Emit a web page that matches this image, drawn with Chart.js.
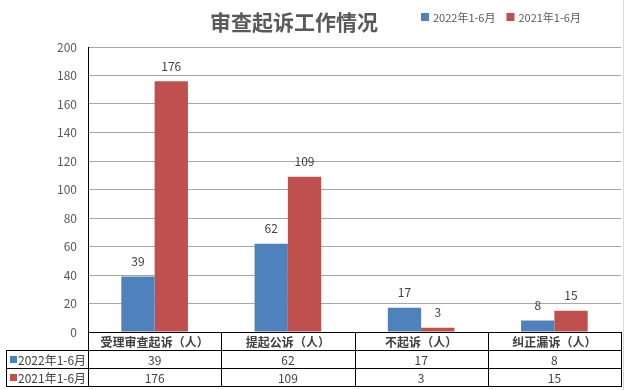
<!DOCTYPE html>
<html><head><meta charset="utf-8">
<script src="https://cdn.jsdelivr.net/npm/chart.js@4/dist/chart.umd.min.js"></script>
<style>html,body{margin:0;padding:0;background:#fff}</style>
</head><body>
<canvas id="c" width="626" height="390"></canvas>
<script>
const title = '审查起诉工作情况';
const categories = ['受理审查起诉（人）', '提起公诉（人）', '不起诉（人）', '纠正漏诉（人）'];
const seriesNames = ['2022年1-6月', '2021年1-6月'];
const values2022 = [39, 62, 17, 8];
const values2021 = [176, 109, 3, 15];
const yMin = 0, yMax = 200, yMajorStep = 20, yMinorStep = 5;
const seriesColors = ['#4F81BD', '#C0504D'];

const FONT = '"Noto Sans CJK SC", "Noto Sans", sans-serif';
Chart.defaults.font.family = FONT;

const rowH = 18;

const decorPlugin = {
  id: 'decor',
  afterDraw(chart) {
    const ctx = chart.ctx;
    const ca = chart.chartArea;
    const xs = chart.scales.x;
    const n = categories.length;
    const catW = (ca.right - ca.left) / n;
    ctx.save();
    // title
    ctx.fillStyle = '#595959';
    ctx.font = 'bold 21px ' + FONT;
    ctx.textAlign = 'center';
    ctx.textBaseline = 'middle';
    ctx.fillText(title, 294, 22);
    // legend
    ctx.font = '11px ' + FONT;
    ctx.textAlign = 'left';
    let lx = 421;
    seriesNames.forEach((s, i) => {
      ctx.fillStyle = seriesColors[i];
      ctx.fillRect(lx, 13, 8, 8);
      ctx.fillStyle = '#595959';
      ctx.fillText(s, lx + 12, 18);
      lx += 12 + ctx.measureText(s).width + 11;
    });
    // data labels
    ctx.font = '12px ' + FONT;
    ctx.fillStyle = '#404040';
    ctx.textAlign = 'center';
    chart.data.datasets.forEach((ds, di) => {
      const meta = chart.getDatasetMeta(di);
      meta.data.forEach((bar, i) => {
        ctx.fillText(String(ds.data[i]), bar.x, bar.y - 15);
      });
    });
    // table
    const top = Math.round(ca.bottom);
    const R = Math.round(ca.right);
    const L = Math.round(ca.left);
    ctx.strokeStyle = '#000';
    ctx.lineWidth = 1;
    ctx.beginPath();
    ctx.moveTo(L, top + 0.5); ctx.lineTo(R + 1, top + 0.5);
    for (let r = 1; r <= 3; r++) {
      ctx.moveTo(6, top + r * rowH + 0.5); ctx.lineTo(R + 1, top + r * rowH + 0.5);
    }
    ctx.moveTo(6.5, top + rowH); ctx.lineTo(6.5, top + 3 * rowH + 1);
    for (let i = 0; i <= n; i++) {
      const x = Math.round(ca.left + i * catW) + 0.5;
      ctx.moveTo(x, top); ctx.lineTo(x, top + 3 * rowH + 1);
    }
    ctx.stroke();
    // category names
    ctx.fillStyle = '#404040';
    ctx.font = 'bold 12px ' + FONT;
    categories.forEach((c, i) => {
      ctx.fillText(c, xs.getPixelForValue(i), top + rowH / 2 + 1);
    });
    // values
    [values2022, values2021].forEach((vals, r) => {
      ctx.font = '12px ' + FONT;
      ctx.textAlign = 'center';
      ctx.fillStyle = '#404040';
      vals.forEach((v, i) => {
        ctx.fillText(String(v), xs.getPixelForValue(i), top + (r + 1) * rowH + rowH / 2 + 1);
      });
      ctx.fillStyle = seriesColors[r];
      ctx.fillRect(10, top + (r + 1) * rowH + 6, 7, 7);
      ctx.fillStyle = '#404040';
      ctx.font = '12px ' + FONT;
      ctx.textAlign = 'left';
      ctx.fillText(seriesNames[r], 18, top + (r + 1) * rowH + rowH / 2 + 1);
    });
    // page border right
    ctx.strokeStyle = '#d9d9d9';
    ctx.beginPath();
    ctx.moveTo(623.5, 0); ctx.lineTo(623.5, 390);
    ctx.stroke();
    ctx.restore();
  }
};

new Chart(document.getElementById('c'), {
  type: 'bar',
  data: {
    labels: categories,
    datasets: [
      { label: seriesNames[0], data: values2022, backgroundColor: seriesColors[0] },
      { label: seriesNames[1], data: values2021, backgroundColor: seriesColors[1] }
    ]
  },
  options: {
    responsive: false,
    animation: false,
    devicePixelRatio: 1,
    layout: { padding: { left: 0, top: 47, right: 5, bottom: 58 } },
    categoryPercentage: 0.5,
    barPercentage: 1,
    plugins: { legend: { display: false }, title: { display: false }, tooltip: { enabled: false } },
    scales: {
      x: {
        display: true,
        grid: { display: false },
        ticks: { display: false },
        border: { display: false },
        afterFit(s) { s.height = 0; }
      },
      y: {
        min: yMin, max: yMax,
        afterFit(s) { s.width = 88; },
        ticks: {
          stepSize: yMinorStep,
          autoSkip: false,
          padding: 11,
          color: '#595959',
          font: { size: 12 },
          callback: (v) => (v % yMajorStep === 0 ? String(v) : null)
        },
        grid: {
          drawTicks: false,
          color: (c) => (c.tick && c.tick.value % yMajorStep === 0 ? '#a6a6a6' : '#ededed')
        },
        border: { display: true, color: '#000', width: 1 }
      }
    }
  },
  plugins: [decorPlugin]
});
</script>
</body></html>
